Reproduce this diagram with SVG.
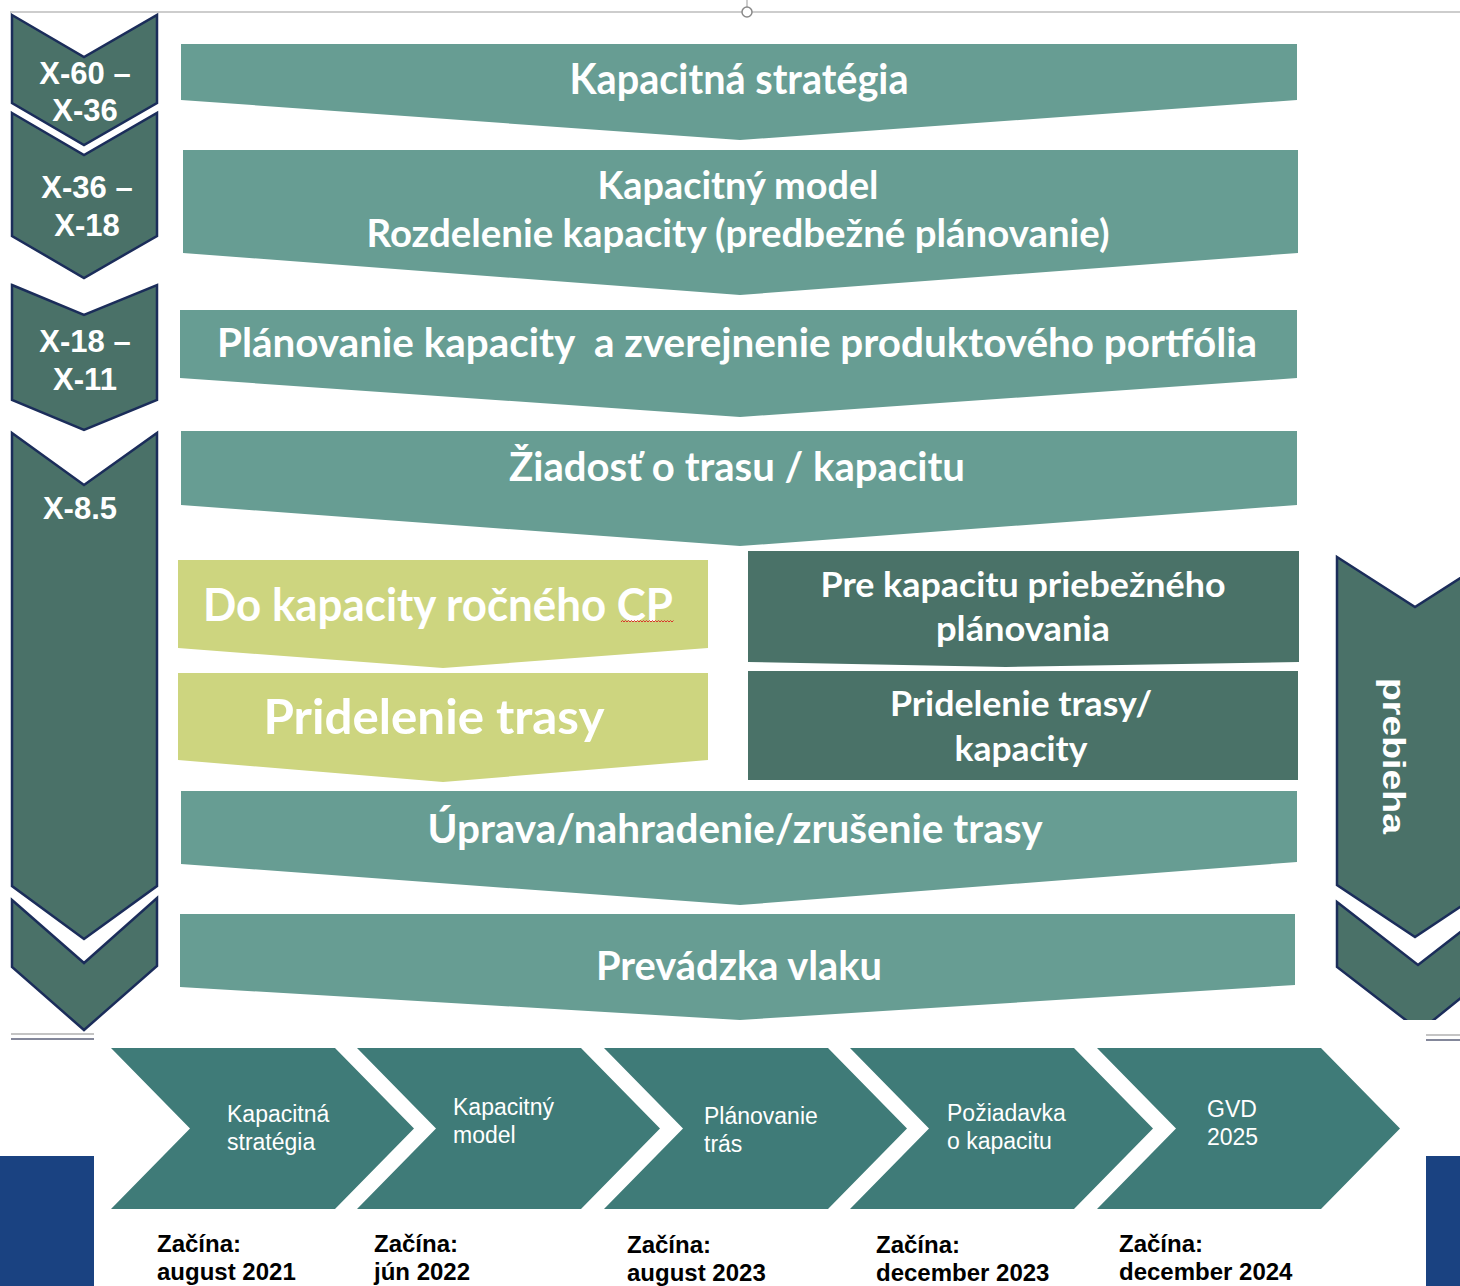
<svg xmlns="http://www.w3.org/2000/svg" width="1460" height="1286" viewBox="0 0 1460 1286">
  <style>
    .phase { fill: #4a7168; stroke: #1b2d5a; stroke-width: 2.5; stroke-linejoin: miter; }
    .bar { fill: #679d93; }
    .lime { fill: #cdd57f; }
    .dark { fill: #4a7268; }
    .step { fill: #3f7b78; }
    .lbl { font-family: "Liberation Sans", Arial, sans-serif; font-weight: bold; font-size: 31px; fill: #ffffff; text-anchor: middle; }
    .big { font-family: Lato, "Open Sans", sans-serif; font-weight: bold; fill: #ffffff; text-anchor: middle; }
    .stepTxt { font-family: "Liberation Sans", Arial, sans-serif; font-size: 23px; fill: #ffffff; }
    .date { font-family: "Liberation Sans", Arial, sans-serif; font-weight: bold; font-size: 24px; fill: #000000; }
    .rule { stroke: #bdbdbd; stroke-width: 1.5; fill: none; }
  </style>
  <defs>
    <clipPath id="rightClip">
      <rect x="1300" y="540" width="160" height="480"/>
    </clipPath>
  </defs>

  <rect x="0" y="0" width="1460" height="1286" fill="#ffffff"/>

  <!-- top rule with handle -->
  <g id="top-rule">
    <line class="rule" x1="10" y1="12" x2="1460" y2="12"/>
    <line class="rule" x1="747" y1="0" x2="747" y2="7"/>
    <circle cx="747" cy="12" r="5" fill="#ffffff" stroke="#8a8a8a" stroke-width="1.5"/>
  </g>

  <!-- left time-phase chevrons -->
  <g id="phase-x60">
    <polygon class="phase" points="12,15 84,57 157,15 157,103 84,145 12,103"/>
    <text class="lbl" x="85" y="84">X-60 –</text>
    <text class="lbl" x="85" y="121">X-36</text>
  </g>
  <g id="phase-x36">
    <polygon class="phase" points="12,113 84,155 157,113 157,236 84,278 12,236"/>
    <text class="lbl" x="87" y="198">X-36 –</text>
    <text class="lbl" x="87" y="236">X-18</text>
  </g>
  <g id="phase-x18">
    <polygon class="phase" points="12,285 84,315 157,285 157,400 84,430 12,400"/>
    <text class="lbl" x="85" y="352">X-18 –</text>
    <text class="lbl" x="85" y="390">X-11</text>
  </g>
  <g id="phase-x85">
    <polygon class="phase" points="12,433 84,485 157,433 157,886 84,939 12,886"/>
    <text class="lbl" x="80" y="519">X-8.5</text>
  </g>
  <g id="phase-tail">
    <polygon class="phase" points="12,900 84,963 157,898 157,966 84,1030 12,967"/>
  </g>

  <!-- right "ongoing" chevrons -->
  <g id="phase-ongoing" clip-path="url(#rightClip)">
    <polygon class="phase" points="1337,557 1415,607 1493,557 1493,885 1415,937 1337,885"/>
    <polygon class="phase" points="1337,902 1418,965 1499,902 1499,967 1420,1031 1337,967"/>
    <text class="lbl" x="0" y="0" font-size="40" textLength="156" lengthAdjust="spacingAndGlyphs" transform="translate(1383,756) rotate(90)">prebieha</text>
  </g>

  <!-- main process bars -->
  <g id="bar-strategy">
    <polygon class="bar" points="181,44 1297,44 1297,100 740,140 181,100"/>
    <text class="big" x="739" y="94" font-size="42" textLength="339" lengthAdjust="spacingAndGlyphs">Kapacitná stratégia</text>
  </g>
  <g id="bar-model">
    <polygon class="bar" points="183,150 1298,150 1298,253 740,295 183,253"/>
    <text class="big" x="738" y="199" font-size="39" textLength="281" lengthAdjust="spacingAndGlyphs">Kapacitný model</text>
    <text class="big" x="738" y="247" font-size="39" textLength="743" lengthAdjust="spacingAndGlyphs">Rozdelenie kapacity (predbežné plánovanie)</text>
  </g>
  <g id="bar-planning">
    <polygon class="bar" points="180,310 1297,310 1297,378 740,417 180,378"/>
    <text class="big" x="737" y="357" font-size="40" xml:space="preserve" textLength="1040" lengthAdjust="spacingAndGlyphs">Plánovanie kapacity  a zverejnenie produktového portfólia</text>
  </g>
  <g id="bar-request">
    <polygon class="bar" points="181,431 1297,431 1297,505 740,546 181,505"/>
    <text class="big" x="737" y="481" font-size="40" textLength="456" lengthAdjust="spacingAndGlyphs">Žiadosť o trasu / kapacitu</text>
  </g>

  <!-- annual timetable branch -->
  <g id="box-annual">
    <polygon class="lime" points="178,560 708,560 708,648 443,668 178,648"/>
    <text class="big" x="438" y="621" font-size="46" textLength="470" lengthAdjust="spacingAndGlyphs">Do kapacity ročného CP</text>
    <path d="M621,622 l1.5,-1.5 l1.5,1.5 l1.5,-1.5 l1.5,1.5 l1.5,-1.5 l1.5,1.5 l1.5,-1.5 l1.5,1.5 l1.5,-1.5 l1.5,1.5 l1.5,-1.5 l1.5,1.5 l1.5,-1.5 l1.5,1.5 l1.5,-1.5 l1.5,1.5 l1.5,-1.5 l1.5,1.5 l1.5,-1.5 l1.5,1.5 l1.5,-1.5 l1.5,1.5 l1.5,-1.5 l1.5,1.5 l1.5,-1.5 l1.5,1.5 l1.5,-1.5 l1.5,1.5 l1.5,-1.5 l1.5,1.5 l1.5,-1.5 l1.5,1.5 l1.5,-1.5 l1.5,1.5 l1.5,-1.5" fill="none" stroke="#d9342b" stroke-width="1"/>
  </g>
  <g id="box-allocation">
    <polygon class="lime" points="178,673 708,673 708,760 443,782 178,760"/>
    <text class="big" x="434" y="734" font-size="48" textLength="341" lengthAdjust="spacingAndGlyphs">Pridelenie trasy</text>
  </g>

  <!-- rolling planning branch -->
  <g id="box-rolling">
    <polygon class="dark" points="748,551 1299,551 1299,662 1006,667 748,662"/>
    <text class="big" x="1023" y="597" font-size="35" textLength="405" lengthAdjust="spacingAndGlyphs">Pre kapacitu priebežného</text>
    <text class="big" x="1023" y="641" font-size="35" textLength="174" lengthAdjust="spacingAndGlyphs">plánovania</text>
  </g>
  <g id="box-rolling-allocation">
    <rect class="dark" x="748" y="671" width="550" height="109"/>
    <text class="big" x="1021" y="716" font-size="35" textLength="262" lengthAdjust="spacingAndGlyphs">Pridelenie trasy/</text>
    <text class="big" x="1021" y="761" font-size="35" textLength="133" lengthAdjust="spacingAndGlyphs">kapacity</text>
  </g>

  <g id="bar-change">
    <polygon class="bar" points="181,791 1297,791 1297,862 740,905 181,864"/>
    <text class="big" x="735" y="843" font-size="40" textLength="615" lengthAdjust="spacingAndGlyphs">Úprava/nahradenie/zrušenie trasy</text>
  </g>
  <g id="bar-operation">
    <polygon class="bar" points="180,914 1295,914 1295,985 740,1020 180,987"/>
    <text class="big" x="739" y="980" font-size="40" textLength="286" lengthAdjust="spacingAndGlyphs">Prevádzka vlaku</text>
  </g>

  <!-- frame rules above the timeline -->
  <g id="frame-rules">
    <line x1="11" y1="1034" x2="94" y2="1034" stroke="#c4c4c4" stroke-width="2"/>
    <line x1="11" y1="1039" x2="94" y2="1039" stroke="#5a5f78" stroke-width="1.5"/>
    <line x1="1426" y1="1035" x2="1460" y2="1035" stroke="#c4c4c4" stroke-width="2"/>
    <line x1="1426" y1="1040" x2="1460" y2="1040" stroke="#5a5f78" stroke-width="1.5"/>
  </g>

  <!-- side blocks -->
  <g id="side-blocks">
    <rect x="0" y="1156" width="94" height="130" fill="#1a4281"/>
    <rect x="1426" y="1156" width="34" height="130" fill="#1a4281"/>
  </g>

  <!-- timeline steps -->
  <g id="step-strategy">
    <polygon class="step" points="111,1048 335,1048 414,1128.5 335,1209 111,1209 190,1128.5"/>
    <text class="stepTxt" x="227" y="1122">Kapacitná</text>
    <text class="stepTxt" x="227" y="1150">stratégia</text>
    <text class="date" x="157" y="1252">Začína:</text>
    <text class="date" x="157" y="1280">august 2021</text>
  </g>
  <g id="step-model">
    <polygon class="step" points="357,1048 581,1048 660,1128.5 581,1209 357,1209 436,1128.5"/>
    <text class="stepTxt" x="453" y="1115">Kapacitný</text>
    <text class="stepTxt" x="453" y="1143">model</text>
    <text class="date" x="374" y="1252">Začína:</text>
    <text class="date" x="374" y="1280">jún 2022</text>
  </g>
  <g id="step-paths">
    <polygon class="step" points="604,1048 828,1048 907,1128.5 828,1209 604,1209 683,1128.5"/>
    <text class="stepTxt" x="704" y="1124">Plánovanie</text>
    <text class="stepTxt" x="704" y="1152">trás</text>
    <text class="date" x="627" y="1253">Začína:</text>
    <text class="date" x="627" y="1281">august 2023</text>
  </g>
  <g id="step-request">
    <polygon class="step" points="850,1048 1074,1048 1153,1128.5 1074,1209 850,1209 929,1128.5"/>
    <text class="stepTxt" x="947" y="1121">Požiadavka</text>
    <text class="stepTxt" x="947" y="1149">o kapacitu</text>
    <text class="date" x="876" y="1253">Začína:</text>
    <text class="date" x="876" y="1281">december 2023</text>
  </g>
  <g id="step-gvd">
    <polygon class="step" points="1097,1048 1321,1048 1400,1128.5 1321,1209 1097,1209 1176,1128.5"/>
    <text class="stepTxt" x="1207" y="1117">GVD</text>
    <text class="stepTxt" x="1207" y="1145">2025</text>
    <text class="date" x="1119" y="1252">Začína:</text>
    <text class="date" x="1119" y="1280">december 2024</text>
  </g>

  <g id="connectors"/>
</svg>
